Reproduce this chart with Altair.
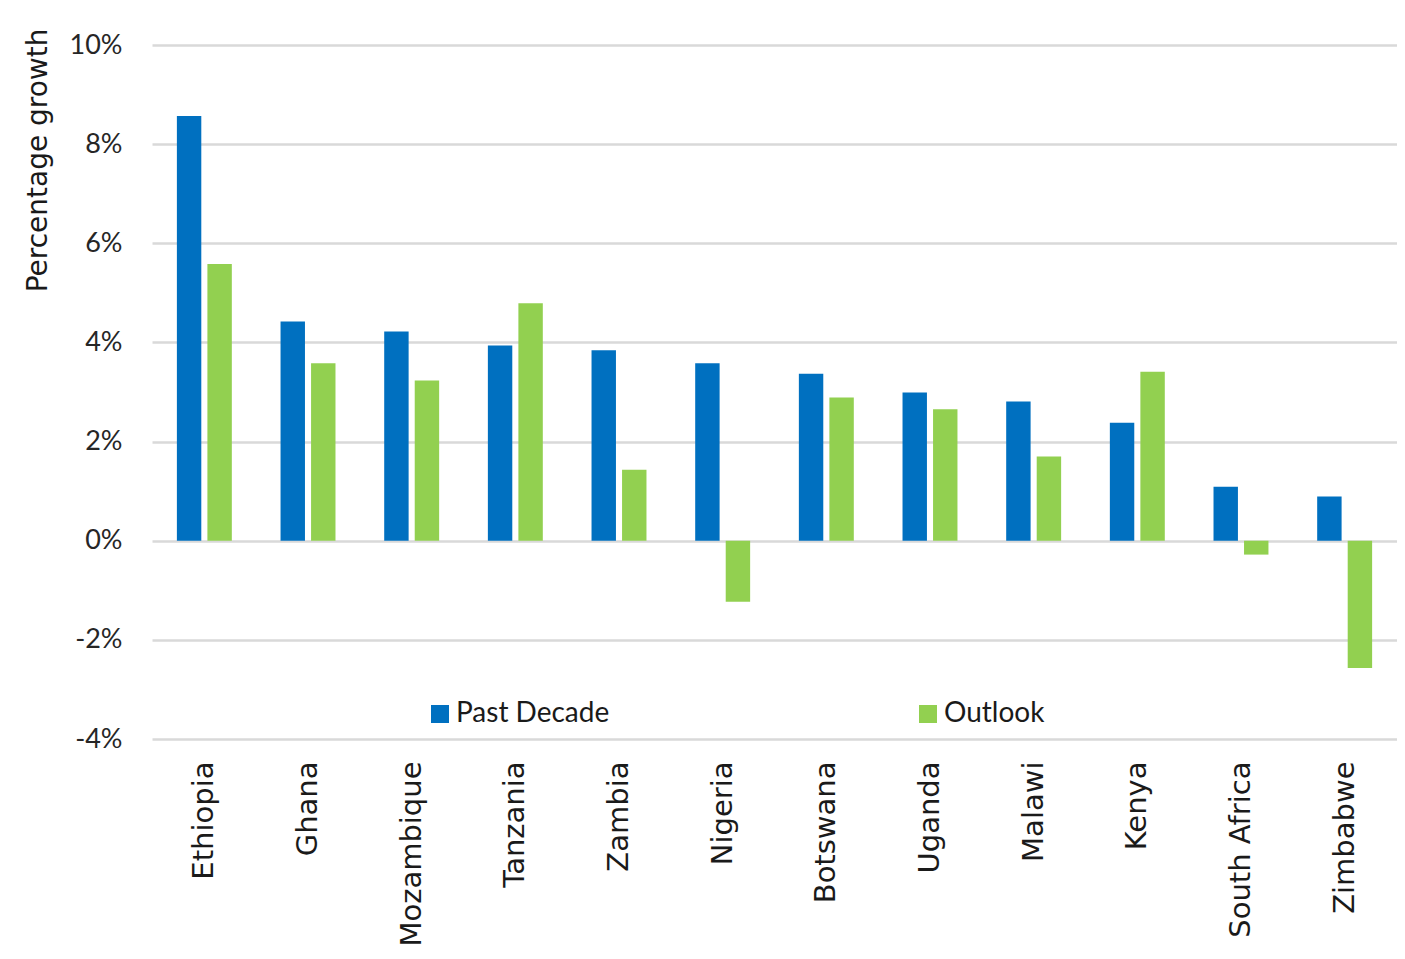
import altair as alt
import pandas as pd

countries = ["Ethiopia", "Ghana", "Mozambique", "Tanzania", "Zambia", "Nigeria",
             "Botswana", "Uganda", "Malawi", "Kenya", "South Africa", "Zimbabwe"]
past_decade = [8.57, 4.42, 4.22, 3.94, 3.84, 3.58, 3.37, 2.99, 2.81, 2.38, 1.09, 0.89]
outlook = [5.58, 3.58, 3.23, 4.79, 1.43, -1.23, 2.89, 2.65, 1.70, 3.41, -0.28, -2.57]
series_names = ["Past Decade", "Outlook"]
series_colors = ["#0070C0", "#92D050"]
y_ticks = [-4, -2, 0, 2, 4, 6, 8, 10]

rows = []
for c, p, o in zip(countries, past_decade, outlook):
    rows.append({"country": c, "series": series_names[0], "value": p})
    rows.append({"country": c, "series": series_names[1], "value": o})
df = pd.DataFrame(rows)

chart = alt.Chart(df).mark_bar().encode(
    x=alt.X("country:N", sort=countries,
            scale=alt.Scale(paddingInner=0.47, paddingOuter=0.24),
            axis=alt.Axis(title=None, labelAngle=-90, labelAlign="right", labelBaseline="middle",
                          labelFont="DejaVu Sans", labelFontSize=29, labelColor="#1a1a1a",
                          labelPadding=22, labelLimit=400, ticks=False, domain=False)),
    xOffset=alt.XOffset("series:N", sort=series_names,
                        scale=alt.Scale(paddingInner=0.2, paddingOuter=0)),
    y=alt.Y("value:Q", scale=alt.Scale(domain=[-4, 10], nice=False),
            axis=alt.Axis(values=y_ticks, labelExpr="datum.value + '%'",
                          title="Percentage growth", titleFont="DejaVu Sans", titleFontSize=28,
                          titleFontWeight="normal", titleColor="#1a1a1a",
                          titleAngle=-90, titleX=-114, titleY=-17, titleAlign="right",
                          titleBaseline="middle",
                          labelFont="Lato", labelFontSize=27, labelColor="#262626",
                          labelPadding=30, ticks=False, domain=False,
                          grid=True, gridColor="#D9D9D9", gridWidth=2.5)),
    color=alt.Color("series:N", sort=series_names,
                    scale=alt.Scale(domain=series_names, range=series_colors),
                    legend=alt.Legend(title=None, orient="none", legendX=274, legendY=655,
                                      direction="horizontal", columns=2, columnPadding=304,
                                      padding=0,
                                      symbolType="square", symbolSize=324, symbolStrokeWidth=0,
                                      labelFont="Lato", labelFontSize=28,
                                      labelColor="#1a1a1a", labelOffset=2, labelLimit=400)),
).properties(
    width=1245, height=694,
    padding={"left": 144, "top": 37, "right": 0, "bottom": 212},
    autosize=alt.AutoSizeParams(type="none"),
).configure_view(stroke=None)

chart.save("out.html", embed_options={"renderer": "svg", "actions": False})
